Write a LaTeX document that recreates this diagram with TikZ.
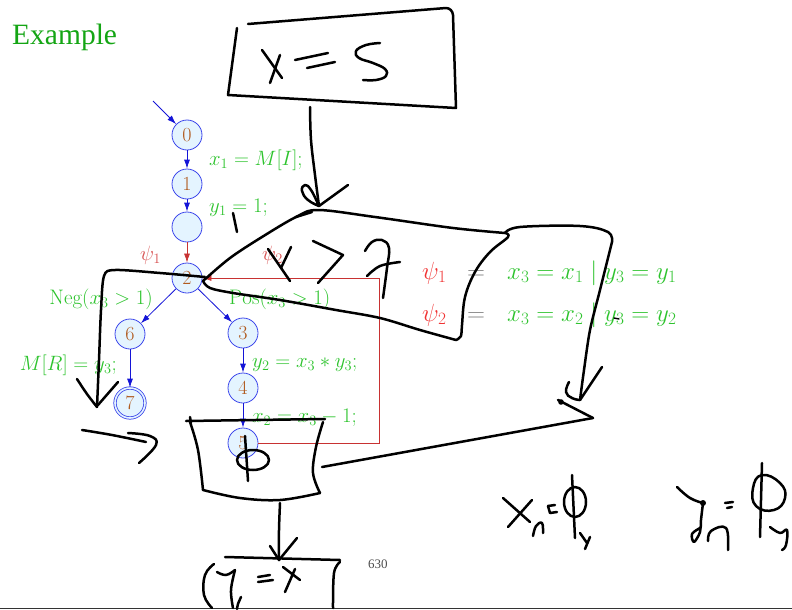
\documentclass[tikz,border=0pt]{standalone}
\usepackage{fontspec}
\newfontfamily\timesfont{Liberation Serif}
\usetikzlibrary{arrows.meta}
\definecolor{lblgreen}{RGB}{45,195,45}
\definecolor{titlegreen}{RGB}{20,165,20}
\definecolor{nodeblue}{RGB}{60,70,235}
\definecolor{nodefill}{RGB}{228,244,255}
\definecolor{numbrown}{RGB}{176,90,30}
\definecolor{edgeblue}{RGB}{20,20,215}
\definecolor{edgered}{RGB}{200,50,50}
\definecolor{psired}{RGB}{240,50,50}
\definecolor{psilight}{RGB}{215,80,80}
\begin{document}
\begin{tikzpicture}[x=1pt,y=-1pt,
  st/.style={circle,draw=nodeblue,fill=nodefill,line width=0.8pt,minimum size=30pt,inner sep=0pt,
    text=numbrown,font=\fontsize{20}{24}\selectfont},
  fin/.style={st,double=nodefill,double distance=1.6pt},
  be/.style={draw=edgeblue,line width=0.8pt,-{Latex[length=9pt,width=6pt]}},
  re/.style={draw=edgered,line width=0.7pt,-{Latex[length=9pt,width=6pt]}},
  lbl/.style={text=lblgreen,font=\fontsize{21}{25}\selectfont,inner sep=0pt},
  psil/.style={text=psilight,font=\fontsize{21}{25}\selectfont,inner sep=0pt},
  big/.style={font=\fontsize{25}{30}\selectfont,inner sep=0pt},
  hand/.style={line width=2.5pt,line cap=round,line join=round,black}]
\useasboundingbox (0,0) rectangle (792,610);
% title
\node[anchor=base west,inner sep=0pt,text=titlegreen,font=\timesfont\fontsize{29.5}{34}\selectfont] (title) at (12,45) {Example};
% graph nodes
\node[st] (n0) at (187,135) {0};
\node[st] (n1) at (187,184) {1};
\node[st] (nb) at (187,227) {};
\node[st] (n2) at (187,278) {2};
\node[st] (n6) at (130,334) {6};
\node[st] (n3) at (243,333) {3};
\node[st] (n4) at (243,388) {4};
\node[fin] (n7) at (130,403) {7};
\node[st] (n5) at (243,443) {5};
\coordinate (entry) at (153,101);
\coordinate (r1) at (379,443);
\coordinate (r2) at (379,278);
% edges
\draw[be] (entry) -- (n0);
\draw[be] (n0) -- (n1);
\draw[be] (n1) -- (nb);
\draw[re] (nb) -- (n2);
\draw[be] (n2) -- (n6);
\draw[be] (n2) -- (n3);
\draw[be] (n6) -- (n7);
\draw[be] (n3) -- (n4);
\draw[be] (n4) -- (n5);
\draw[re] (n5.east) -- (r1) -- (r2) -- (n2.east);
% labels
\node[lbl,anchor=base west] (l1) at (209,165) {$x_1 = M[I];$};
\node[lbl,anchor=base west] (l2) at (209,212) {$y_1 = 1;$};
\node[psil,anchor=base west] (p1) at (140,260) {$\psi_1$};
\node[psil,anchor=base west] (p2) at (262,260) {$\psi_2$};
\node[lbl,anchor=base east] (lneg) at (153,304) {$\mathrm{Neg}(x_3 > 1)$};
\node[lbl,anchor=base west] (lpos) at (229,304) {$\mathrm{Pos}(x_3 > 1)$};
\node[lbl,anchor=base east] (lmr) at (117,370) {$M[R] = y_3;$};
\node[lbl,anchor=base west] (ly2) at (252,367) {$y_2 = x_3 * y_3;$};
\node[lbl,anchor=base west] (lx2) at (252,422) {$x_2 = x_3 - 1;$};
% right formulas
\node[big,anchor=base west,text=psired] (q1) at (422,279) {$\psi_1$};
\node[big,anchor=base west,text=gray] (e1) at (467,279) {$=$};
\node[big,anchor=base west,text=lblgreen] (f1) at (507,279) {$x_3 = x_1 \mid y_3 = y_1$};
\node[big,anchor=base west,text=psired] (q2) at (422,321) {$\psi_2$};
\node[big,anchor=base west,text=gray] (e2) at (467,321) {$=$};
\node[big,anchor=base west,text=lblgreen] (f2) at (507,321) {$x_3 = x_2 \mid y_3 = y_2$};
% page number and bottom rule
\node[anchor=base west,inner sep=0pt,text=black!70,font=\timesfont\fontsize{13}{15}\selectfont] (pg) at (368,568) {630};
\draw[line width=1.5pt,black!80] (0,608.5) -- (792,608.5);
% ---------------- hand drawn ink ----------------
% top box x=5
\draw[hand] (248,24) -- (446,8) to[out=0,in=95] (453,15) -- (456,108) -- (228,95) -- (237,28);
\draw[hand] (262,50) -- (282,78);
\draw[hand] (280,55) -- (270,83);
\draw[hand] (295,60) -- (328,53);
\draw[hand] (307,68) -- (335,62);
\draw[hand] plot[smooth,tension=0.7] coordinates {(380,43) (366,45) (356,51) (359,58) (373,63) (385,69) (386,76) (376,80) (363,80)};
% arrow from top box to flag
\draw[hand] plot[smooth,tension=0.6] coordinates {(310,107) (311,140) (315,175) (319,206)};
\draw[hand] plot[smooth,tension=0.8] coordinates {(319,206) (308,200) (302,191) (305,185) (311,190) (318,204)};
\draw[hand] (319,206) -- (348,185);
% flag (x > 7)
\draw[hand] plot[smooth,tension=0.55] coordinates {(203,281) (230,258) (262,237) (296,217) (318,210) (375,217) (453,228) (505,233)};
\draw[hand] (296,217) -- (312,212);
\draw[hand] plot[smooth,tension=0.6] coordinates {(505,233) (508,237) (490,252) (475,272) (465,297) (462,325) (461,336) (456,340)};
\draw[hand] plot[smooth,tension=0.55] coordinates {(456,340) (420,330) (380,318) (336,310) (280,300) (233,293) (210,288) (203,281)};
% flap and right arrow
\draw[hand] plot[smooth,tension=0.6] coordinates {(505,233) (520,227) (580,226) (608,232) (612,242)};
\draw[hand] plot[smooth,tension=0.5] coordinates {(612,242) (600,290) (590,330) (584,370) (580,400)};
\draw[hand] (580,400) -- (602,367);
\draw[hand] plot[smooth,tension=0.8] coordinates {(569,382) (566,392) (572,398) (580,400)};
\draw[hand] (558,400) -- (593,418);
\fill (561,402) circle (2.8pt);
\draw[hand] (593,418) -- (322,467);
% text in flag: x > 7
\draw[hand] (268,249) -- (290,281);
\draw[hand] (291,247) -- (281,268);
\draw[hand] (313,241) -- (343,255) -- (318,283);
\draw[hand] plot[smooth,tension=0.7] coordinates {(365,251) (372,242) (382,240) (389,248) (387,268) (383,298)};
\draw[hand] plot[smooth,tension=0.6] coordinates {(367,276) (380,266) (400,262)};
\draw[line width=1.4pt,line cap=round] (614,318) -- (619,319);
% small tick under y1
\draw[hand] (233,213) -- (237,232);
% stroke across node 2 and left arrow down
\draw[hand] plot[smooth,tension=0.5] coordinates {(205,277) (160,273) (115,270) (104,276) (101,310) (99,360) (97,407)};
\draw[hand] plot[smooth,tension=0.6] coordinates {(77,379) (87,394) (97,407)};
\draw[hand] (118,382) -- (98,405);
% small arrow left of middle box
\draw[hand] plot[smooth,tension=0.6] coordinates {(82,430) (112,435) (146,442)};
\draw[hand] plot[smooth,tension=0.7] coordinates {(128,433) (150,436) (156,445) (139,463)};
% middle box (phi)
\draw[hand] (186,421) -- (325,419);
\draw[hand] (190,417) -- (191,423);
\draw[hand] plot[smooth,tension=0.6] coordinates {(323,422) (316,447) (313,473) (320,493)};
\draw[hand] plot[smooth,tension=0.6] coordinates {(320,493) (280,500) (240,498) (203,490)};
\draw[hand] plot[smooth,tension=0.6] coordinates {(203,490) (198,450) (190,422)};
\draw[hand] (245,436) -- (248,481);
\draw[hand] (253,460) ellipse (16pt and 10pt);
% arrow down to y=x box
\draw[hand] plot[smooth,tension=0.5] coordinates {(280,503) (279,530) (279,560)};
\draw[hand] (270,546) -- (279,560) -- (297,538);
% y=x box
\draw[hand] (225,557) -- (340,560);
\draw[hand] plot[smooth,tension=0.6] coordinates {(340,562) (334,573) (333,608)};
\draw[hand] plot[smooth,tension=0.7] coordinates {(214,564) (205,575) (204,595) (212,608)};
\draw[hand] plot[smooth,tension=0.7] coordinates {(217,572) (226,575) (235,570)};
\draw[hand] plot[smooth,tension=0.6] coordinates {(235,570) (231,590) (233,608)};
\draw[hand] plot[smooth,tension=0.6] coordinates {(241,597) (238,604) (237,609)};
\draw[hand] (258,577) -- (270,575);
\draw[hand] (258,582) -- (273,580);
\draw[hand] (283,567) -- (300,580);
\draw[hand] (295,569) -- (285,592);
% x1 = phi1
\draw[hand] (503,498) -- (530,522);
\draw[hand] (532,500) -- (508,527);
\draw[hand] plot[smooth,tension=0.7] coordinates {(533,536) (536,526) (542,523) (543,533)};
\draw[hand] (548,506) -- (555,505);
\draw[hand] (550,513) -- (557,512);
\draw[hand] (548,506) -- (550,513);
\draw[hand] (572,475) -- (575,538);
\draw[hand] (575,502) ellipse (11pt and 15pt);
\draw[hand] (580,533) -- (587,543);
\draw[hand] (590,537) -- (585,549);
% y1 = phi1
\draw[hand] plot[smooth,tension=0.7] coordinates {(677,487) (690,498) (703,503)};
\fill (703,503) circle (3pt);
\draw[hand] plot[smooth,tension=0.6] coordinates {(703,503) (701,520) (700,532) (694,542) (692,534) (700,528)};
\draw[hand] plot[smooth,tension=0.7] coordinates {(708,541) (711,531) (726,528) (728,550)};
\draw[hand] (725,503) -- (733,502);
\draw[hand] (727,508) -- (732,507);
\draw[hand] (762,463) -- (760,537);
\draw[hand] plot[smooth cycle,tension=0.8] coordinates {(762,475) (780,483) (785,498) (774,510) (756,506) (753,488)};
\draw[hand] plot[smooth,tension=0.7] coordinates {(770,527) (780,533) (787,530) (786,545) (782,550)};
\end{tikzpicture}
\end{document}
